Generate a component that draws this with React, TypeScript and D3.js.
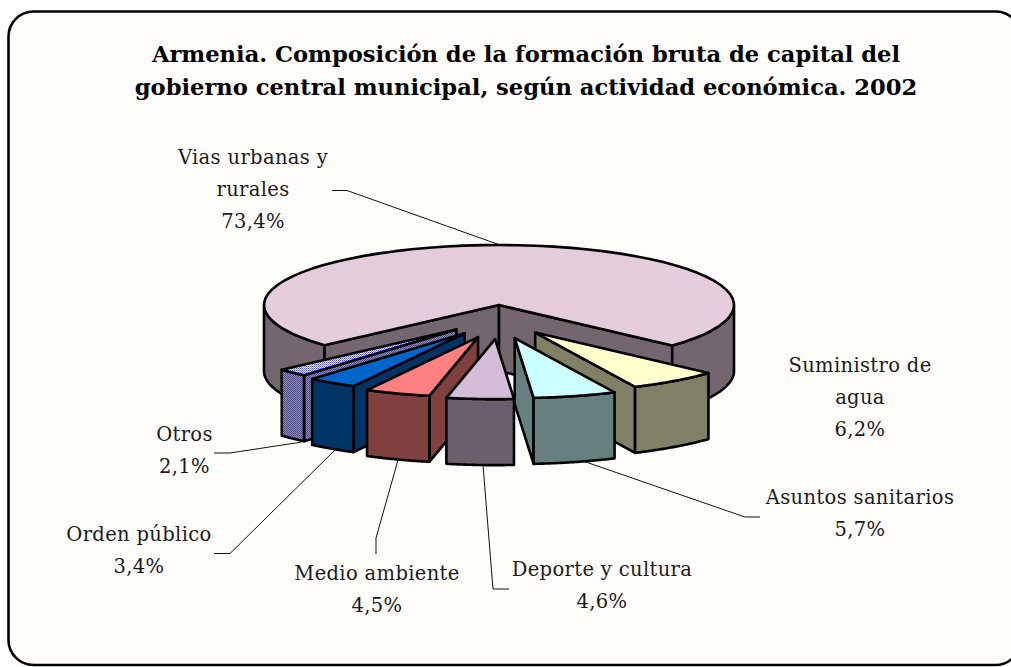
import React from "react";
import * as d3 from "d3";

const categories = ["Vias urbanas y rurales", "Suministro de agua", "Asuntos sanitarios", "Deporte y cultura", "Medio ambiente", "Orden público", "Otros"];
const values = [73.4, 6.2, 5.7, 4.6, 4.5, 3.4, 2.1];
const topColors = ["#E5CCDA", "#FFFFCC", "#CCFFFF", "#D4BDD8", "#FF8080", "#0066CC", "url(#dithTop)"];
const wallColors = ["#74666F", "#808066", "#668080", "#6A5F6C", "#804040", "#003366", "url(#dithWall)"];
const titleLines = ["Armenia. Composición de la formación bruta de capital del", "gobierno central municipal, según actividad económica. 2002"];

const W = 1011, H = 667;
const cx = 499, cy = 305, rx = 235, ry = 60, depth = 66;
const explodeX = 0.26, explodeY = 0.57;
const serif = "'DejaVu Serif', serif";

// label layout: lines with anchor x and first baseline
const labelLayout = [
  { x: 253, y: 163.5, lines: ["Vias urbanas y", "rurales", "73,4%"] },
  { x: 860, y: 371.5, lines: ["Suministro de", "agua", "6,2%"] },
  { x: 860, y: 503.5, lines: ["Asuntos sanitarios", "5,7%"] },
  { x: 602, y: 576, lines: ["Deporte y cultura", "4,6%"] },
  { x: 377, y: 580, lines: ["Medio ambiente", "4,5%"] },
  { x: 139, y: 541, lines: ["Orden público", "3,4%"] },
  { x: 184.5, y: 441, lines: ["Otros", "2,1%"] },
];
const leaders: ([number, number][] | null)[] = [
  [[332, 190.5], [347, 190.5], [500, 245]],
  null,
  [[580, 460], [745, 517], [760, 517]],
  [[483, 465], [493, 589], [509, 589]],
  [[398, 460], [376, 538], [376, 554]],
  [[335, 450], [230, 553.5], [214, 553.5]],
  [[302, 442], [230, 453], [214, 453]],
];

const deg = Math.PI / 180;
const pie = d3.pie<number>().sort(null).startAngle(228 * deg).endAngle(588 * deg);
const arcs = pie(values);
const lineGen = d3.line<[number, number]>();

function App() {
  const slices = arcs.map((a, i) => {
    const a0 = a.startAngle - Math.PI / 2;
    const a1 = a.endAngle - Math.PI / 2;
    const mid = (a0 + a1) / 2;
    const exploded = i > 0;
    const ox = exploded ? Math.cos(mid) * rx * explodeX : 0;
    const oy = exploded ? Math.sin(mid) * ry * explodeY : 0;
    const px = (t: number): [number, number] => [cx + ox + Math.cos(t) * rx, cy + oy + Math.sin(t) * ry];
    const apex: [number, number] = [cx + ox, cy + oy];
    const down = (p: [number, number]): [number, number] => [p[0], p[1] + depth];
    const n = 60;
    const range = d3.range(n + 1).map((k) => a0 + ((a1 - a0) * k) / n);
    const topPts = [apex, ...range.map(px), apex];
    const walls: [number, number][][] = [];
    if (Math.cos(a0) < 0) walls.push([apex, px(a0), down(px(a0)), down(apex)]);
    if (Math.cos(a1) > 0) walls.push([apex, px(a1), down(px(a1)), down(apex)]);
    const k0 = Math.ceil(a0 / (2 * Math.PI) - 0.5);
    for (let turn = k0 - 1; turn <= k0 + 1; turn++) {
      const s = Math.max(a0, turn * 2 * Math.PI);
      const e = Math.min(a1, turn * 2 * Math.PI + Math.PI);
      if (e > s) {
        const up = d3.range(n + 1).map((k) => s + ((e - s) * k) / n).map(px);
        walls.push([...up, ...up.slice().reverse().map(down)]);
      }
    }
    return { i, sort: i === 0 ? -2 : Math.sin(mid), topPts, walls };
  });
  const order = slices.slice().sort((p, q) => p.sort - q.sort);

  return (
    <svg width={W} height={H} style={{ position: "absolute", left: 0, top: 0, background: "#fff" }}>
      <defs>
        <pattern id="dithTop" width={2} height={2} patternUnits="userSpaceOnUse">
          <rect width={2} height={2} fill="#FFFFFF" />
          <rect width={1} height={1} fill="#4A4AE8" />
          <rect x={1} y={1} width={1} height={1} fill="#8A8AF0" />
        </pattern>
        <pattern id="dithWall" width={2} height={2} patternUnits="userSpaceOnUse">
          <rect width={2} height={2} fill="#8E8EB4" />
          <rect width={1} height={1} fill="#4E4E86" />
          <rect x={1} y={1} width={1} height={1} fill="#4E4E86" />
        </pattern>
      </defs>
      <rect x={8.5} y={11.5} width={1012} height={653.5} rx={25} fill="#FFFDFA" stroke="#000" strokeWidth={2.6} />
      {titleLines.map((t, i) => (
        <text key={t} x={526} y={62 + i * 32.5} textAnchor="middle" fontFamily={serif} fontWeight="bold" fontSize={22.6} fill="#000">{t}</text>
      ))}
      {leaders.map((l, i) => l && (
        <path key={categories[i]} d={lineGen(l) || ""} fill="none" stroke="#111" strokeWidth={1} />
      ))}
      {order.map((s) => (
        <g key={categories[s.i]} stroke="#000" strokeWidth={2.6} strokeLinejoin="round">
          {s.walls.map((w, j) => (
            <path key={j} d={(lineGen(w) || "") + "Z"} fill={wallColors[s.i]} />
          ))}
          <path d={(lineGen(s.topPts) || "") + "Z"} fill={topColors[s.i]} />
        </g>
      ))}
      {labelLayout.map((l, i) => (
        <text key={categories[i]} fontFamily={serif} fontSize={19.5} letterSpacing={0.35} textAnchor="middle" fill="#1a1a1a">
          {l.lines.map((t, j) => (
            <tspan key={j} x={l.x} y={l.y + j * 32}>{t}</tspan>
          ))}
        </text>
      ))}
    </svg>
  );
}

export default App;
